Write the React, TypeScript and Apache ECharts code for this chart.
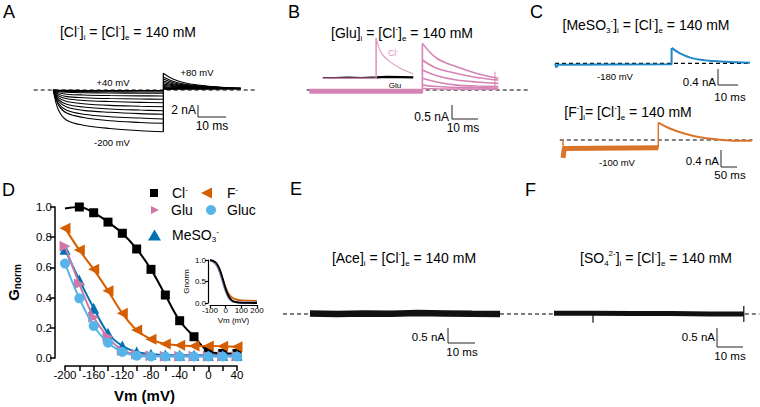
import React, { useEffect, useRef } from 'react';
import * as echarts from 'echarts';

const FONT = "'Liberation Sans', Arial, Helvetica, sans-serif";

// ---------- Panel D : G-V data ----------
const voltagesD = [-200, -180, -160, -140, -120, -100, -80, -60, -40, -20, 0, 20, 40];
const clVoltages = [-180, -160, -140, -120, -100, -80, -60, -40, -20, 0, 20, 40];
const clG = [1.0, 0.962, 0.9, 0.826, 0.722, 0.587, 0.417, 0.247, 0.141, 0.045, 0.03, 0.03];
const clFitStart = [-200, 0.99];
const fG = [0.86, 0.715, 0.587, 0.446, 0.296, 0.185, 0.124, 0.093, 0.085, 0.08, 0.08, 0.078, 0.075];
const gluG = [0.74, 0.49, 0.27, 0.14, 0.05, 0.025, 0.015, 0.012, 0.012, 0.012, 0.012, 0.012, 0.012];
const mesoG = [0.72, 0.517, 0.33, 0.164, 0.08, 0.04, 0.025, 0.02, 0.018, 0.018, 0.018, 0.018, 0.018];
const glucG = [0.625, 0.395, 0.212, 0.101, 0.04, 0.015, 0.01, 0.01, 0.01, 0.01, 0.01, 0.01, 0.01];

// inset fitted curves (Vm, G)
const insetCl = [[-100, 0.995], [-80, 0.98], [-60, 0.93], [-40, 0.8], [-20, 0.58], [0, 0.33], [20, 0.15], [40, 0.06], [60, 0.025], [90, 0.008], [140, 0.002], [200, 0.0]];
const insetF = [[-100, 0.985], [-80, 0.96], [-60, 0.89], [-40, 0.76], [-20, 0.56], [0, 0.36], [20, 0.21], [40, 0.13], [60, 0.09], [90, 0.065], [140, 0.055], [200, 0.05]];
const insetGlu = [[-100, 0.99], [-80, 0.97], [-60, 0.91], [-40, 0.76], [-20, 0.54], [0, 0.3], [20, 0.13], [40, 0.05], [60, 0.02], [100, 0.01], [200, 0.01]];
const insetMeso = [[-100, 0.99], [-80, 0.97], [-60, 0.91], [-40, 0.77], [-20, 0.54], [0, 0.31], [20, 0.14], [40, 0.055], [60, 0.025], [100, 0.01], [200, 0.01]];
const insetGluc = [[-100, 0.985], [-80, 0.96], [-60, 0.89], [-40, 0.73], [-20, 0.5], [0, 0.27], [20, 0.11], [40, 0.04], [60, 0.018], [100, 0.01], [200, 0.01]];

// ---------- Panel A : Cl- currents (ms, nA) ----------
const voltagesA = [-200, -180, -160, -140, -120, -100, -80, -60, -40, -20, 0, 20, 40];
const stepTimesA = [0, 1.8, 4.8, 10.7, 20.2, 31, 39.3];
const stepCurrentsA = [
  [0, -3.6, -5.5, -6.4, -7.0, -7.4, -7.6],
  [0, -2.7, -4.2, -5.0, -5.6, -5.9, -6.05],
  [0, -2.4, -3.7, -4.4, -4.85, -5.1, -5.27],
  [0, -2.0, -3.1, -3.7, -4.05, -4.3, -4.42],
  [0, -1.7, -2.6, -3.1, -3.45, -3.65, -3.76],
  [0, -1.4, -2.1, -2.5, -2.8, -2.95, -3.04],
  [0, -1.05, -1.6, -1.9, -2.1, -2.25, -2.31],
  [0, -0.75, -1.2, -1.4, -1.55, -1.64, -1.69],
  [0, -0.5, -0.76, -0.9, -1.0, -1.06, -1.09],
  [0, -0.27, -0.42, -0.5, -0.55, -0.58, -0.6],
  [0, -0.16, -0.25, -0.3, -0.33, -0.35, -0.36],
  [0, -0.08, -0.12, -0.15, -0.17, -0.18, -0.18],
  [0, -0.04, -0.06, -0.08, -0.08, -0.09, -0.09],
];
const tailTimesA = [39.3, 42.9, 47.6, 54.8, 64.3, 66.9];
const tailCurrentsA = [
  [3.04, 1.95, 1.22, 0.73, 0.36, 0.31],
  [2.36, 1.55, 1.0, 0.62, 0.34, 0.3],
  [2.0, 1.33, 0.88, 0.56, 0.33, 0.3],
  [1.64, 1.1, 0.75, 0.5, 0.32, 0.29],
  [1.36, 0.93, 0.65, 0.45, 0.31, 0.29],
  [1.09, 0.77, 0.56, 0.41, 0.3, 0.28],
  [0.85, 0.62, 0.47, 0.36, 0.29, 0.28],
  [0.64, 0.5, 0.4, 0.32, 0.28, 0.27],
  [0.45, 0.38, 0.33, 0.29, 0.27, 0.26],
  [0.33, 0.3, 0.28, 0.27, 0.26, 0.26],
  [0.24, 0.24, 0.24, 0.24, 0.24, 0.24],
  [0.18, 0.19, 0.2, 0.21, 0.22, 0.22],
  [0.15, 0.16, 0.18, 0.19, 0.2, 0.2],
];

// ---------- Panel B : Glu ----------
const stepTimesB = [0, 43.5];
const stepCurrentsB = [-0.04, -0.04];
const tailTimesB = [43.5, 49, 56.7, 64.4, 72.7];
const tailCurrentsB = [
  [1.63, 1.11, 0.81, 0.58, 0.41],
  [1.05, 0.76, 0.58, 0.44, 0.35],
  [0.7, 0.5, 0.35, 0.28, 0.23],
  [0.41, 0.28, 0.17, 0.14, 0.12],
  [0.17, 0.12, 0.09, 0.08, 0.07],
  [0.05, 0.04, 0.03, 0.03, 0.03],
];
const artifactB = [71.4, 0.05, 0.64];
const gluCmpTimes = [5.2, 10, 15, 20, 25.7, 30, 35, 40];
const gluCmpCurrents = [0.42, 0.42, 0.43, 0.42, 0.44, 0.46, 0.45, 0.44];
const clCmpPreTimes = [5.2, 25.7, 25.7];
const clCmpPreCurrents = [0.41, 0.41, 1.81];
const clCmpTailTimes = [25.7, 27.8, 31, 34.9, 40];
const clCmpTailCurrents = [1.81, 1.28, 0.99, 0.76, 0.56];

// ---------- Panel C : MeSO3- and F- ----------
const mesoStepTimes = [0, 0.6, 1.5, 58.3, 58.3];
const mesoStepCurrents = [0, -0.1, -0.03, -0.02, 0.37];
const mesoTailTimes = [58.3, 62.5, 69, 79, 91, 97.5];
const mesoTailCurrents = [0.37, 0.24, 0.12, 0.055, 0.024, 0.014];
const fStepTimes = [0, 0, 4, 297.8, 297.8];
const fStepCurrents = [0, -0.42, -0.2, -0.18, 0.41];
const fTailTimes = [297.8, 334, 376, 428, 480, 543, 590];
const fTailCurrents = [0.41, 0.27, 0.16, 0.064, 0.016, -0.016, -0.016];

// ---------- Panels E, F ----------
const aceTimes = [0, 10, 20, 30, 40, 50, 60, 70.4];
const aceCurrents = [0.02, 0.0, 0.02, 0.01, 0.03, 0.02, 0.01, 0.0];
const so4Times = [0, 15, 30, 45, 60, 73];
const so4Currents = [0.02, 0.02, 0.01, 0.01, 0.0, 0.0];
const so4Spikes = [[15, 0, -0.23], [73, -0.21, 0.21]];

const C_CL = '#000000';
const C_F = '#D55E00';
const C_GLU = '#CC79A7';
const C_GLUC = '#56B4E9';
const C_MESO = '#0072B2';
const C_TRACE_B = '#d683b5';
const C_TRACE_C1 = '#1f87c7';
const C_TRACE_C2 = '#d9742a';

const pairs = (xs: number[], ys: number[]) => xs.map((x, i) => [x, ys[i]]);

const line = (grid: number, data: any[], color: string, width: number, extra: any = {}) => ({
  type: 'line',
  xAxisIndex: grid,
  yAxisIndex: grid,
  data,
  symbol: 'none',
  clip: false,
  silent: true,
  lineStyle: { color, width },
  ...extra,
});

const dashed = (grid: number, x0: number, x1: number) =>
  line(grid, [[x0, 0], [x1, 0]], '#000', 1.2, { lineStyle: { color: '#000', width: 1.2, type: [4, 3] }, z: 1 });

const richBase = (size: number) => ({
  n: { fontSize: size, fontFamily: FONT, lineHeight: size + 4 },
  sup: { fontSize: Math.round(size * 0.6), fontFamily: FONT, verticalAlign: 'top', lineHeight: Math.round(size * 0.6) },
  sub: { fontSize: Math.round(size * 0.55), fontFamily: FONT, verticalAlign: 'bottom', lineHeight: Math.round(size * 0.6) },
});

const text = (x: number, y: number, str: string, size: number, align = 'center', extra: any = {}) => ({
  type: 'text',
  x,
  y,
  silent: true,
  z: 100,
  style: {
    text: str,
    fontSize: size,
    fontFamily: FONT,
    fill: '#000',
    align,
    textAlign: align,
    verticalAlign: 'middle',
    textVerticalAlign: 'middle',
    rich: richBase(size),
    ...extra,
  },
});

const scaleBar = (x: number, y1: number, y2: number, x2: number) => ({
  type: 'polyline',
  silent: true,
  z: 100,
  shape: { points: [[x, y1], [x, y2], [x2, y2]] },
  style: { stroke: '#222', lineWidth: 1, fill: null },
});

const titleCl = '{n|[Cl}{sup|-}{n|]}{sub|i}{n| = [Cl}{sup|-}{n|]}{sub|e}{n| = 140 mM}';
const titleGlu = '{n|[Glu]}{sub|i}{n| = [Cl}{sup|-}{n|]}{sub|e}{n| = 140 mM}';
const titleMeso = '{n|[MeSO}{sub|3}{sup|-}{n|]}{sub|i}{n| = [Cl}{sup|-}{n|]}{sub|e}{n| = 140 mM}';
const titleF = '{n|[F}{sup|-}{n|]}{sub|i}{n|= [Cl}{sup|-}{n|]}{sub|e}{n| = 140 mM}';
const titleAce = '{n|[Ace]}{sub|i}{n| = [Cl}{sup|-}{n|]}{sub|e}{n| = 140 mM}';
const titleSO4 = '{n|[SO}{sub|4}{sup|2-}{n|]}{sub|i}{n| = [Cl}{sup|-}{n|]}{sub|e}{n| = 140 mM}';

const LEFT_TRI = 'path://M0,5L10,0L10,10Z';
const RIGHT_TRI = 'path://M0,0L10,5L0,10Z';

const legendItem = (name: string, label: string, left: number, top: number, icon: string, w: number, h: number, pad: number) => ({
  data: [name],
  left,
  top,
  padding: 0,
  icon,
  itemWidth: w,
  itemHeight: h,
  selectedMode: false,
  formatter: () => label,
  textStyle: {
    color: '#000',
    fontFamily: FONT,
    rich: {
      a: { fontSize: 14, fontFamily: FONT, lineHeight: 16, padding: [0, 0, 0, pad] },
      sup: { fontSize: 8, fontFamily: FONT, verticalAlign: 'top', lineHeight: 8 },
      sub: { fontSize: 8, fontFamily: FONT, verticalAlign: 'bottom', lineHeight: 8 },
    },
  },
});

export default function App() {
  const ref = useRef<HTMLDivElement>(null);
  useEffect(() => {
    if (!ref.current) return;
    const chart = echarts.init(ref.current, null, { renderer: 'svg' });

    const grids = [
      { left: 65, top: 207, width: 172, height: 151 }, // D
      { left: 210, top: 260, width: 47, height: 43 }, // inset
      { left: 33.7, top: 68, width: 224, height: 71.5 }, // A
      { left: 298.9, top: 32.8, width: 228.8, height: 71.5 }, // B
      { left: 551, top: 42.5, width: 204, height: 33.4 }, // C1
      { left: 556.6, top: 118.75, width: 198.4, height: 42.5 }, // C2
      { left: 283, top: 299, width: 264.6, height: 30 }, // E
      { left: 548.8, top: 295, width: 210.6, height: 38 }, // F
    ];
    const hiddenRanges = [
      null,
      null,
      [-7, 73, -9, 4],
      [-4, 84, -0.5, 2.0],
      [-2, 100, -0.3, 0.5],
      [-20, 600, -0.5, 0.5],
      [-10, 88, -0.5, 0.5],
      [-2, 79, -0.5, 0.5],
    ];

    const axisText = { color: '#000', fontFamily: FONT };
    const xAxes: any[] = [
      {
        type: 'value', gridIndex: 0, min: -200, max: 40, interval: 20, offset: 8,
        axisLine: { show: true, onZero: false, lineStyle: { color: '#000', width: 1.5 } },
        axisTick: { show: true, length: 5, lineStyle: { color: '#000', width: 1.5 } },
        axisLabel: { ...axisText, fontSize: 11.5, margin: 3, formatter: (v: number) => (v % 40 === 0 ? String(v) : '') },
        splitLine: { show: false },
        name: 'Vm (mV)', nameLocation: 'middle', nameGap: 22,
        nameTextStyle: { ...axisText, fontSize: 15, fontWeight: 'bold', padding: [0, 13, 0, 0] },
      },
      {
        type: 'value', gridIndex: 1, min: -100, max: 200, interval: 100, offset: 2,
        axisLine: { show: true, onZero: false, lineStyle: { color: '#000', width: 1.2 } },
        axisTick: { show: true, length: 3, lineStyle: { color: '#000', width: 1.2 } },
        axisLabel: { ...axisText, fontSize: 8, margin: 1 },
        splitLine: { show: false },
        name: 'Vm (mV)', nameLocation: 'middle', nameGap: 11,
        nameTextStyle: { ...axisText, fontSize: 8 },
      },
    ];
    const yAxes: any[] = [
      {
        type: 'value', gridIndex: 0, min: 0, max: 1, interval: 0.2, offset: 10,
        axisLine: { show: true, onZero: false, lineStyle: { color: '#000', width: 1.5 } },
        axisTick: { show: true, length: 5, lineStyle: { color: '#000', width: 1.5 } },
        axisLabel: { ...axisText, fontSize: 11.5, margin: 3, formatter: (v: number) => v.toFixed(1) },
        splitLine: { show: false },
        name: '{g|G}{s|norm}', nameLocation: 'middle', nameRotate: 90, nameGap: 33,
        nameTextStyle: {
          ...axisText,
          rich: {
            g: { fontSize: 15, fontWeight: 'bold', fontFamily: FONT, color: '#000', lineHeight: 18 },
            s: { fontSize: 10, fontWeight: 'bold', fontFamily: FONT, color: '#000', verticalAlign: 'bottom', lineHeight: 10 },
          },
        },
      },
      {
        type: 'value', gridIndex: 1, min: 0, max: 1, interval: 0.5, offset: 2,
        axisLine: { show: true, onZero: false, lineStyle: { color: '#000', width: 1.2 } },
        axisTick: { show: true, length: 3, lineStyle: { color: '#000', width: 1.2 } },
        axisLabel: { ...axisText, fontSize: 8, margin: 2, formatter: (v: number) => v.toFixed(1) },
        splitLine: { show: false },
        name: 'Gnorm', nameLocation: 'middle', nameRotate: 90, nameGap: 15,
        nameTextStyle: { ...axisText, fontSize: 8 },
      },
    ];
    for (let g = 2; g < grids.length; g++) {
      const r = hiddenRanges[g] as number[];
      xAxes.push({ type: 'value', gridIndex: g, min: r[0], max: r[1], show: false });
      yAxes.push({ type: 'value', gridIndex: g, min: r[2], max: r[3], show: false });
    }

    const series: any[] = [];

    // ---- Panel D ----
    const gvSeries = (name: string, data: any[], color: string, symbol: string, size: number, z: number) => ({
      type: 'line', name, xAxisIndex: 0, yAxisIndex: 0, data, smooth: 0.35, clip: false,
      symbol, symbolSize: size, z,
      lineStyle: { color, width: 2 }, itemStyle: { color },
    });
    series.push(gvSeries('Cl-', [{ value: clFitStart, symbol: 'none' }, ...pairs(clVoltages, clG)], C_CL, 'rect', 9, 3));
    series.push(gvSeries('F-', pairs(voltagesD, fG), C_F, LEFT_TRI, 11, 4));
    series.push(gvSeries('MeSO3-', pairs(voltagesD, mesoG), C_MESO, 'triangle', 11, 5));
    series.push(gvSeries('Glu', pairs(voltagesD, gluG), C_GLU, RIGHT_TRI, 11, 6));
    series.push(gvSeries('Gluc', pairs(voltagesD, glucG), C_GLUC, 'circle', 10, 7));

    // inset
    [[insetF, C_F], [insetGluc, C_GLUC], [insetMeso, C_MESO], [insetGlu, C_GLU], [insetCl, C_CL]].forEach(([d, c], i) => {
      series.push(line(1, d as any[], c as string, 1.8, { smooth: 0.4, z: 3 + i }));
    });

    // ---- Panel A ----
    series.push(dashed(2, -7, 73));
    voltagesA.forEach((_, i) => {
      series.push(line(2, pairs(stepTimesA, stepCurrentsA[i]), '#000', 1.1, { smooth: 0.35, z: 3 }));
      series.push(line(2, pairs(tailTimesA, tailCurrentsA[i]), '#000', 1.1, { smooth: 0.35, z: 3 }));
    });
    series.push(line(2, [[stepTimesA[stepTimesA.length - 1], stepCurrentsA[0][stepCurrentsA[0].length - 1]], [tailTimesA[0], tailCurrentsA[0][0]]], '#000', 1.3, { z: 3 }));

    // ---- Panel B ----
    series.push(dashed(3, -1, 85));
    series.push(line(3, pairs(stepTimesB, stepCurrentsB), C_TRACE_B, 5, { z: 2 }));
    tailCurrentsB.forEach((row) => series.push(line(3, pairs(tailTimesB, row), C_TRACE_B, 1.6, { smooth: 0.35, z: 3 })));
    series.push(line(3, [[tailTimesB[0], stepCurrentsB[1] - 0.06], [tailTimesB[0], tailCurrentsB[0][0]]], C_TRACE_B, 1.6, { z: 3 }));
    series.push(line(3, [[artifactB[0], artifactB[1]], [artifactB[0], artifactB[2]]], C_TRACE_B, 1, { z: 3 }));
    series.push(line(3, pairs(gluCmpTimes, gluCmpCurrents), '#000', 2.2, { z: 3 }));
    series.push(line(3, pairs(clCmpPreTimes, clCmpPreCurrents), '#d98fbd', 1.6, { z: 4, lineStyle: { color: '#d98fbd', width: 1.6, opacity: 0.9 } }));
    series.push(line(3, pairs(clCmpTailTimes, clCmpTailCurrents), '#dc9cc3', 1.1, { smooth: 0.35, z: 4 }));

    // ---- Panel C ----
    series.push(dashed(4, 0, 98));
    series.push(line(4, pairs(mesoStepTimes, mesoStepCurrents), C_TRACE_C1, 2, { z: 3 }));
    series.push(line(4, pairs(mesoTailTimes, mesoTailCurrents), C_TRACE_C1, 2, { smooth: 0.35, z: 3 }));
    series.push(dashed(5, -10, 592));
    series.push(line(5, pairs(fStepTimes.slice(0, 2), fStepCurrents.slice(0, 2)), C_TRACE_C2, 1.5, { z: 3 }));
    series.push(line(5, pairs(fStepTimes.slice(1, 4), fStepCurrents.slice(1, 4)), C_TRACE_C2, 5, { z: 2 }));
    series.push(line(5, pairs(fStepTimes.slice(3), fStepCurrents.slice(3)), C_TRACE_C2, 1.5, { z: 3 }));
    series.push(line(5, pairs(fTailTimes, fTailCurrents), C_TRACE_C2, 2, { smooth: 0.35, z: 3 }));

    // ---- Panels E, F ----
    series.push(dashed(6, -10, 88));
    series.push(line(6, pairs(aceTimes, aceCurrents), '#111', 6.5, { z: 3 }));
    series.push(dashed(7, -2, 79));
    series.push(line(7, pairs(so4Times, so4Currents), '#111', 5, { z: 3 }));
    so4Spikes.forEach((s) => series.push(line(7, [[s[0], s[1]], [s[0], s[2]]], '#111', 1.2, { z: 3 })));

    const graphic: any[] = [
      // panel letters
      text(3, 12, 'A', 18, 'left'),
      text(288, 12, 'B', 18, 'left'),
      text(530, 12, 'C', 18, 'left'),
      text(2, 190, 'D', 18, 'left'),
      text(290, 189, 'E', 18, 'left'),
      text(525, 190, 'F', 18, 'left'),
      // titles
      text(128, 32, titleCl, 14),
      text(402, 33, titleGlu, 14),
      text(646, 25, titleMeso, 14),
      text(628, 112, titleF, 14),
      text(404, 258, titleAce, 14),
      text(656, 258, titleSO4, 14),
      // voltage labels
      text(197, 72, '+80 mV', 9.5),
      text(113, 82, '+40 mV', 9.5),
      text(112, 142, '-200 mV', 9.5),
      text(615, 76, '-180 mV', 9.5),
      text(617, 162, '-100 mV', 9.5),
      text(393, 53, '{n|Cl}{sup|-}', 8.5, 'center', { fill: '#d98fbd', rich: { n: { fontSize: 8.5, fontFamily: FONT, fill: '#d98fbd', lineHeight: 11 }, sup: { fontSize: 6, fontFamily: FONT, fill: '#d98fbd', verticalAlign: 'top', lineHeight: 6 } } }),
      text(395, 85, 'Glu', 8),
      // scale bars
      scaleBar(198, 105, 117, 226),
      text(196, 110, '2 nA', 12, 'right'),
      text(212, 126, '10 ms', 12),
      scaleBar(452, 105, 119, 478),
      text(449, 117, '0.5 nA', 12, 'right'),
      text(463, 128, '10 ms', 12),
      scaleBar(718, 69, 85, 738),
      text(716, 82, '0.4 nA', 11.5, 'right'),
      text(730, 97, '10 ms', 11.5),
      scaleBar(721, 150, 167, 737),
      text(719, 161, '0.4 nA', 11.5, 'right'),
      text(730, 175, '50 ms', 11.5),
      scaleBar(448, 328, 343, 475),
      text(445, 337, '0.5 nA', 11.5, 'right'),
      text(462, 352, '10 ms', 11.5),
      scaleBar(717, 328, 347, 743),
      text(715, 337, '0.5 nA', 11.5, 'right'),
      text(730, 356, '10 ms', 11.5),
    ];

    chart.setOption({
      animation: false,
      backgroundColor: '#ffffff',
      textStyle: { fontFamily: FONT },
      grid: grids,
      xAxis: xAxes,
      yAxis: yAxes,
      legend: [
        legendItem('Cl-', '{a|Cl}{sup|-}', 150, 185, 'rect', 8, 8, 9),
        legendItem('F-', '{a|F}{sup|-}', 201, 185, LEFT_TRI, 11, 11, 10),
        legendItem('Glu', '{a|Glu}', 151, 203, RIGHT_TRI, 8, 11, 7),
        legendItem('Gluc', '{a|Gluc}', 206, 203, 'circle', 10, 10, 6),
        legendItem('MeSO3-', '{a|MeSO}{sub|3}{sup|-}', 148, 227, 'triangle', 13, 11, 6),
      ],
      series,
      graphic,
    });
    return () => chart.dispose();
  }, []);
  return <div ref={ref} style={{ position: 'fixed', left: 0, top: 0, width: 760, height: 407 }} />;
}
